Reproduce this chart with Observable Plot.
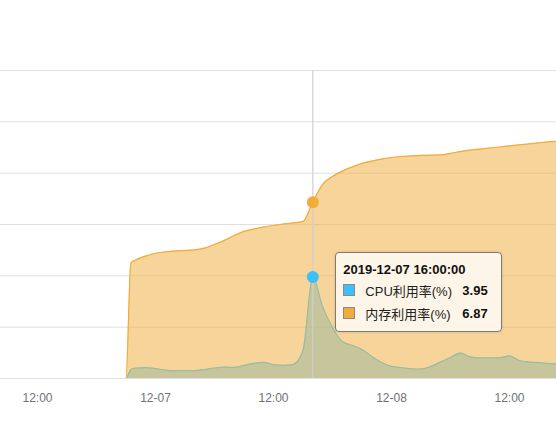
<!DOCTYPE html>
<html><head><meta charset="utf-8">
<script src="https://cdn.jsdelivr.net/npm/d3@7"></script>
<script src="https://cdn.jsdelivr.net/npm/@observablehq/plot@0.6"></script>
<style>
body{margin:0;background:#fff;font-family:"Liberation Sans",Arial,"Noto Sans CJK SC",sans-serif;}
#wrap{position:relative;width:556px;height:446px;overflow:hidden;}
.tip{position:absolute;box-sizing:border-box;width:167px;height:80px;background:rgba(253,246,234,0.96);border:1px solid #7a7a7a;border-radius:4px;padding:8px 0 0 7px;font-size:13px;color:#222;box-shadow:0 0 3px rgba(0,0,0,0.15);}
.tip .t{font-weight:bold;color:#111;height:18px;line-height:18px;}
.tip .r{display:flex;align-items:center;height:23px;}
.tip .r:first-of-type{margin-top:2px}
.tip .sq{width:10px;height:10px;border:1px solid #8a8a8a;margin-right:10px;flex:none;}
.tip .n{width:97px;color:#222;flex:none;}
.tip .v{font-weight:bold;color:#111;}
</style></head><body><div id="wrap"></div>
<script>
// hour offsets from 2019-12-06 00:00
const hourOffsets = [8,9,10,11,12,13,14,15,16,17,18,19,20,21,21.5,22,23,24,25,26,27,28,29,30,31,32,33,34,35,36,37,38,39,40,41,42,43,44,45,46,47,48,49,50,51,52,53,54,55,56,57,58,59,60,61,62,63,64,65];
const cpuValues = [0,0,0,0,0,0,0,0,0,0,0,0,0,0,0.35,
  0.41,0.42,0.39,0.33,0.31,0.31,0.31,0.35,0.41,0.44,0.43,0.51,0.59,0.63,0.54,0.51,0.55,1.09,3.95,2.80,
  1.99,1.44,1.29,1.13,0.86,0.62,0.47,0.42,0.38,0.37,0.47,0.64,0.82,0.99,0.84,0.80,0.80,0.81,0.88,0.70,
  0.64,0.62,0.58,0.57];
const memValues = [0,0,0,0,0,0,0,0,0,0,0,0,0,0,4.5,
  4.62,4.77,4.88,4.93,4.97,4.99,5.01,5.08,5.22,5.38,5.57,5.73,5.82,5.90,5.96,6.02,6.06,6.12,6.87,7.56,
  7.87,8.08,8.24,8.38,8.47,8.55,8.61,8.65,8.67,8.69,8.70,8.71,8.77,8.84,8.90,8.94,8.98,9.02,9.06,9.10,
  9.14,9.18,9.22,9.25];
const seriesNames = ["CPU利用率(%)", "内存利用率(%)"];
const seriesColors = ["#3DC0FA", "#F2AC3C"];
const xTickHours = [12, 24, 36, 48, 60];
const yGrid = [0, 2, 4, 6, 8, 10, 12];
const tipHour = 40;
const viewHours = [8.237, 64.78];

const base = Date.UTC(2019, 11, 6, 0, 0, 0);
const toDate = h => new Date(base + h * 3600e3);
const data = hourOffsets.map((h, i) => ({time: toDate(h), cpu: cpuValues[i], mem: memValues[i]}));
const tipRow = data[hourOffsets.indexOf(tipHour)];
const fmtTick = d => (d.getUTCHours() === 0 && d.getUTCMinutes() === 0) ? d3.utcFormat("%m-%d")(d) : d3.utcFormat("%H:%M")(d);

const chart = Plot.plot({
  width: 556, height: 446,
  marginLeft: 0, marginRight: 0, marginTop: 70, marginBottom: 68,
  style: {fontFamily: '"Liberation Sans", Arial, sans-serif', fontSize: "12px", color: "#6E7079", background: "#fff"},
  x: {type: "utc", domain: viewHours.map(toDate)},
  y: {domain: [0, 12], axis: null},
  marks: [
    Plot.gridY(yGrid, {stroke: "#e0e0e0", strokeOpacity: 1}),
    Plot.areaY(data, {x: "time", y: "mem", fill: "#EFAB35", fillOpacity: 0.5, curve: "monotone-x", clip: true}),
    Plot.areaY(data, {x: "time", y: "cpu", fill: "#95B59E", fillOpacity: 0.5, curve: "monotone-x", clip: true}),
    Plot.lineY(data, {x: "time", y: "mem", stroke: "#F2AA3A", strokeWidth: 1.2, curve: "monotone-x", clip: true}),
    Plot.lineY(data, {x: "time", y: "cpu", stroke: "#98BDA2", strokeWidth: 1.2, curve: "monotone-x", clip: true}),
    Plot.ruleX([tipRow], {x: "time", y1: 0, y2: 12, stroke: "#cfcfcf", strokeWidth: 1.2}),
    Plot.dot([tipRow], {x: "time", y: "mem", r: 6, fill: seriesColors[1], stroke: null}),
    Plot.dot([tipRow], {x: "time", y: "cpu", r: 6, fill: seriesColors[0], stroke: null}),
    Plot.axisX(xTickHours.map(toDate), {tickSize: 0, tickPadding: 15, tickFormat: fmtTick, fontSize: 12, label: null})
  ]
});
const wrap = document.getElementById("wrap");
wrap.appendChild(chart);

const xs = chart.scale("x"), ys = chart.scale("y");
const tip = document.createElement("div");
tip.className = "tip";
tip.style.left = (xs.apply(tipRow.time) + 23) + "px";
tip.style.top = (ys.apply(tipRow.cpu) - 25) + "px";
const rows = [[seriesNames[0], seriesColors[0], tipRow.cpu], [seriesNames[1], seriesColors[1], tipRow.mem]];
tip.innerHTML = `<div class="t">${d3.utcFormat("%Y-%m-%d %H:%M:%S")(tipRow.time)}</div>` +
  rows.map(([n, c, v]) => `<div class="r"><span class="sq" style="background:${c}"></span><span class="n">${n}</span><span class="v">${v.toFixed(2)}</span></div>`).join("");
wrap.appendChild(tip);
</script>
</body></html>
